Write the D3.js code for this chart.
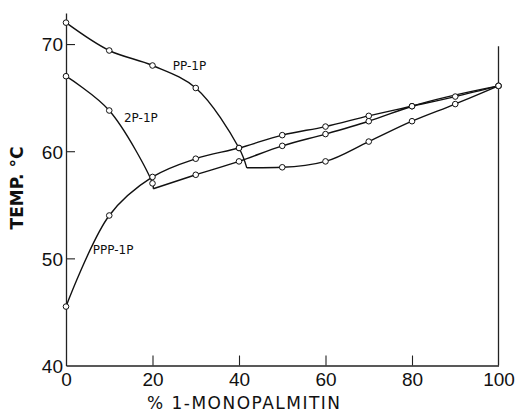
<!DOCTYPE html>
<html>
<head>
<meta charset="utf-8">
<script src="https://cdn.jsdelivr.net/npm/d3@7"></script>
<style>
  body { margin: 0; background: #fff; }
  svg { display: block; font-family: "DejaVu Sans", sans-serif; }
</style>
</head>
<body>
<div id="chart"></div>
<script>
// Melting temperature vs % 1-monopalmitin
const ppp1pPts = [[0, 45.5], [10, 54.0], [20, 57.6], [30, 59.3], [40, 60.3], [50, 61.5],
                  [60, 62.3], [70, 63.3], [80, 64.2], [90, 65.1], [100, 66.1]];
const pp1pPts = [[0, 72.0], [10, 69.4], [20, 68.0], [30, 65.9], [40, 60.3], [50, 58.5],
                 [60, 59.05], [70, 60.9], [80, 62.8], [90, 64.4], [100, 66.1]];
const pp1pEutectic = [41.8, 58.45];
const p2p1pPts = [[0, 67.0], [10, 63.8], [20, 57.0], [30, 57.8], [40, 59.05], [50, 60.5],
                  [60, 61.6], [70, 62.8], [80, 64.2], [100, 66.1]];
const p2p1pEutectic = [20.2, 56.5];

const xTicks = [0, 20, 40, 60, 80, 100];
const yTicks = [40, 50, 60, 70];

const curveLabels = [
    { text: "PP-1P", x: 24.7, y: 68.0 },
    { text: "2P-1P", x: 13.4, y: 63.1 },
    { text: "PPP-1P", x: 6.2, y: 50.8 }
];

const width = 520, height = 414;
const svg = d3.select("#chart")
    .append("svg")
    .attr("width", width)
    .attr("height", height);

const x = d3.scaleLinear().domain([0, 100]).range([66, 498.5]);
const y = d3.scaleLinear().domain([40, 72.9]).range([365.5, 13]);

// Axes (ticks point inward)
const xAxis = svg.append("g")
    .attr("transform", `translate(0,${y(40)})`)
    .call(d3.axisBottom(x).tickValues(xTicks).tickSizeInner(-10).tickSizeOuter(0).tickPadding(7));
xAxis.selectAll(".tick line").filter(d => d === 0 || d === 100).remove();

const yAxis = svg.append("g")
    .attr("transform", `translate(${x(0)},0)`)
    .call(d3.axisLeft(y).tickValues(yTicks).tickSizeInner(-9).tickSizeOuter(0).tickPadding(3));
yAxis.selectAll(".tick line").filter(d => d === 40).remove();

svg.selectAll(".domain").attr("stroke", "#222").attr("stroke-width", 1.3);
svg.selectAll(".tick line").attr("stroke", "#222").attr("stroke-width", 1.1);
svg.selectAll(".tick text")
    .attr("fill", "#111")
    .style("font-size", "19px");
yAxis.selectAll(".tick text").attr("dy", "0.36em");

// right frame line
svg.append("line")
    .attr("x1", x(100)).attr("x2", x(100))
    .attr("y1", y(40)).attr("y2", y(69.8))
    .attr("stroke", "#222")
    .attr("stroke-width", 1.3);

// Axis titles
svg.append("text")
    .attr("x", 147)
    .attr("y", 409)
    .attr("textLength", 193)
    .attr("lengthAdjust", "spacing")
    .style("font-size", "17px")
    .attr("fill", "#111")
    .text("% 1-MONOPALMITIN");

svg.append("text")
    .attr("transform", "rotate(-90)")
    .attr("x", -188)
    .attr("y", 23)
    .attr("text-anchor", "middle")
    .style("font-size", "17px")
    .style("font-weight", "bold")
    .attr("fill", "#111")
    .text("TEMP. °C");

// Lines: smooth liquidus branches, gentler right-hand branches
const smooth = d3.line()
    .x(d => x(d[0]))
    .y(d => y(d[1]))
    .curve(d3.curveCatmullRom.alpha(0.5));

const gentle = d3.line()
    .x(d => x(d[0]))
    .y(d => y(d[1]))
    .curve(d3.curveMonotoneX);

function branches(pts, eut) {
    const left = pts.filter(d => d[0] < eut[0]).concat([eut]);
    const right = [eut].concat(pts.filter(d => d[0] > eut[0]));
    return [left, right];
}

const pp = branches(pp1pPts, pp1pEutectic);
const p2 = branches(p2p1pPts, p2p1pEutectic);

const lineLayer = svg.append("g")
    .attr("fill", "none")
    .attr("stroke", "#111")
    .attr("stroke-width", 1.4);

lineLayer.append("path").attr("d", smooth(ppp1pPts));
lineLayer.append("path").attr("d", smooth(pp[0]));
lineLayer.append("path").attr("d", gentle(pp[1]));
lineLayer.append("path").attr("d", smooth(p2[0]));
lineLayer.append("path").attr("d", gentle(p2[1]));

// Open circle markers
const allPts = ppp1pPts.concat(pp1pPts).concat(p2p1pPts);
svg.append("g")
    .selectAll("circle")
    .data(allPts)
    .enter()
    .append("circle")
    .attr("cx", d => x(d[0]))
    .attr("cy", d => y(d[1]))
    .attr("r", 2.8)
    .attr("fill", "#fff")
    .attr("stroke", "#111")
    .attr("stroke-width", 1);

// Curve labels
svg.append("g")
    .selectAll("text")
    .data(curveLabels)
    .enter()
    .append("text")
    .attr("x", d => x(d.x))
    .attr("y", d => y(d.y))
    .attr("dy", "0.36em")
    .style("font-size", "12px")
    .attr("fill", "#111")
    .text(d => d.text);
</script>
</body>
</html>
